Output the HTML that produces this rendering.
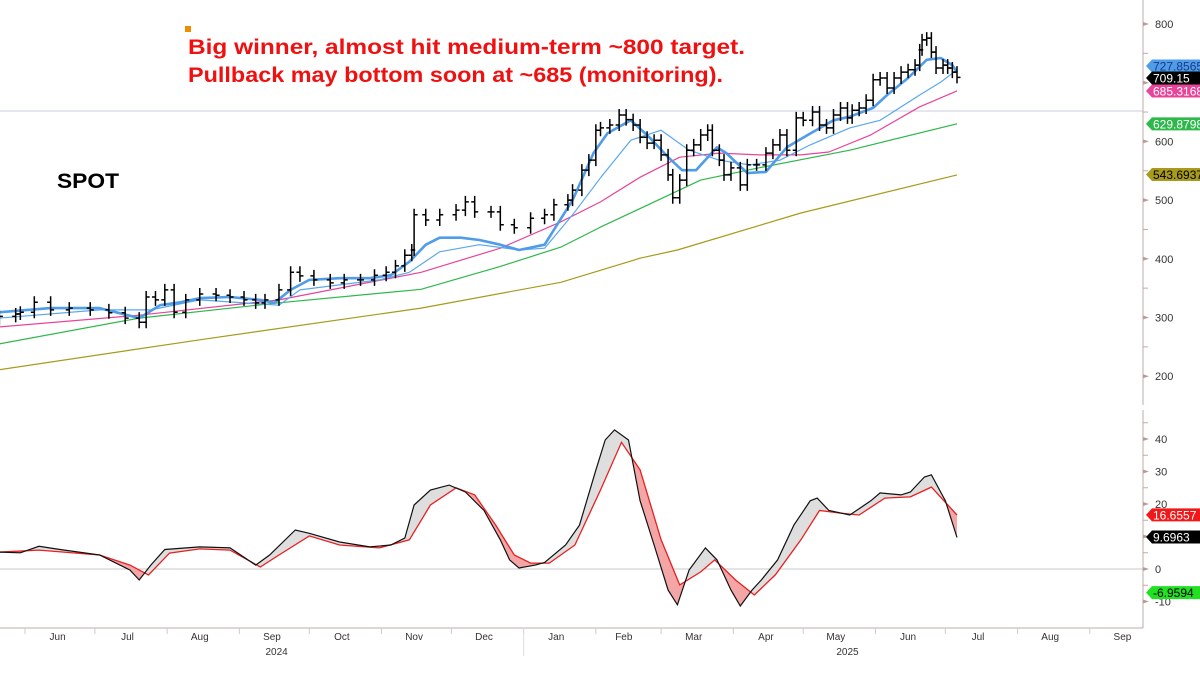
<!DOCTYPE html>
<html><head><meta charset="utf-8"><style>
html,body{margin:0;padding:0;background:#fff;}
svg{display:block;font-family:"Liberation Sans",sans-serif;}
</style></head><body>
<svg id="c" width="1200" height="675" viewBox="0 0 1200 675">
<defs>
<clipPath id="aboveRed"><path id="aboveRedPath" d=""/></clipPath>
<clipPath id="belowRed"><path id="belowRedPath" d=""/></clipPath>
</defs>
<g id="grid"></g>
<g id="ma"></g>
<g id="bars"></g>
<g id="osc"></g>
<g id="axes"></g>
<g id="tags"></g>
<rect x="185" y="26" width="6" height="6" fill="#f08c00"/>
<text x="188" y="54" fill="#f01010" font-size="21" font-weight="bold" textLength="557" lengthAdjust="spacingAndGlyphs">Big winner, almost hit medium-term ~800 target.</text>
<text x="188" y="82" fill="#f01010" font-size="21" font-weight="bold" textLength="535" lengthAdjust="spacingAndGlyphs">Pullback may bottom soon at ~685 (monitoring).</text>
<text x="57" y="188" fill="#000" font-size="21" font-weight="bold" textLength="62" lengthAdjust="spacingAndGlyphs">SPOT</text>
</svg>
<script>
// days since 2024-06-01
const barDays=[-11,-4,-2,4,11,19,28,36,43,49,52,56,60,64,69,75,82,88,94,99,103,109,114,118,124,131,137,144,150,155,159,163,166,167,172,178,185,189,193,200,204,210,217,223,227,233,235,239,242,245,247,251,255,258,261,264,267,270,273,276,278,281,284,287,290,293,295,298,300,303,307,310,314,318,321,324,327,331,334,338,341,344,347,350,353,355,358,361,364,367,370,373,376,379,382,384,385,387,389,391,394,396,398,400];
const closes=[302,306,309,326,313,316,313,308,299,292,335,330,347,309,330,340,338,335,330,325,330,347,377,371,364,359,364,364,372,377,388,406,415,475,466,475,483,497,480,480,458,453,469,475,492,500,517,551,568,619,623,628,645,637,628,607,597,602,577,543,504,534,585,594,611,619,585,568,543,555,526,560,560,580,594,611,585,640,636,650,628,623,645,657,640,653,657,670,705,708,691,708,718,722,730,756,773,776,752,725,730,725,718,709];
const fastDays=[-11,11,32,45,49,58,67,75,88,101,107,114,122,135,148,157,165,172,178,187,195,204,212,223,235,244,250,260,268,276,282,288,297,301,310,318,327,336,347,354,364,370,379,387,393,398,400];
const fastMA=[309,316,316,303,299,321,326,333,335,330,325,347,364,367,367,372,395,424,436,436,432,424,415,424,500,580,614,636,607,573,551,551,590,580,546,548,590,611,636,642,657,679,708,739,742,730,718];
const slowDays=[-11,32,54,75,109,118,152,165,178,195,212,223,235,247,260,273,285,298,311,324,337,354,367,384,393,400];
const slowMA=[299,313,313,330,321,347,364,377,412,424,415,418,475,538,602,619,585,568,560,568,594,623,636,679,701,722];
const ma50Days=[-11,49,109,170,204,230,247,264,281,298,315,333,345,363,384,400];
const ma50=[284,304,330,377,418,463,497,539,573,580,577,577,582,611,659,686];
const ma100Days=[-11,49,109,170,204,230,247,290,315,354,400];
const ma100=[255,299,325,348,387,420,454,534,555,585,630];
const ma200Days=[-11,75,170,230,264,280,333,400];
const ma200=[211,262,316,360,401,415,478,543];
const oscBlackDays=[-11,-2,6,15,32,45,49,54,60,75,88,99,105,116,122,135,148,157,163,167,174,182,189,197,204,208,212,219,223,232,238,245,249,253,259,264,270,276,280,285,292,297,303,307,312,316,323,330,337,340,345,354,363,367,376,380,386,389,395,400];
const oscBlack=[5.2,5,7,6,4.3,-0.3,-3.4,1.2,6,6.8,6.5,1.2,4.3,12,11,8.3,6.8,7.4,9.5,19.7,24.3,25.8,23.7,18,9,2.8,0.3,1.2,2,7.4,13.5,30.5,39.7,42.8,39.7,21,7.4,-6.5,-11,-0.3,6.5,2.8,-6.5,-11.4,-6.5,-3.4,2.8,13.5,21,21.8,18,16.6,21,23.4,22.8,23.7,28.3,29,21,9.7];
const oscRedDays=[-11,6,32,45,53,62,75,88,101,109,122,135,152,165,174,185,193,202,210,217,225,236,247,256,264,273,281,290,296,305,313,322,333,341,350,358,369,380,389,400];
const oscRed=[5.2,5.8,4.3,1.2,-1.8,4.9,6.2,5.8,0.6,4.3,10.2,7.4,6.5,9,19.7,25,22.8,13.5,4.3,1.8,1.8,7.4,24.3,39,30.5,9,-4.9,-0.9,2.8,-3.4,-8,-1.8,9,18,17.2,16.6,21.8,22.2,25.2,16.6];
const priceTicks=[200,300,400,500,600,700,800];
const oscTicks=[-10,0,10,20,30,40];
const monthLabels=["Jun","Jul","Aug","Sep","Oct","Nov","Dec","Jan","Feb","Mar","Apr","May","Jun","Jul","Aug","Sep"];
const monthMidDays=[14,44,75,106,136,167,197,228,257,287,318,348,379,409,440,471];
const monthStartDays=[0,30,61,92,122,153,183,214,245,273,304,334,365,395,426,457];
const tagLabels=["727.8565","709.15","685.3168","629.8798","543.6937"];
const tagValues=[727.8565,709.15,685.3168,629.8798,543.6937];
const oscTagLabels=["16.6557","9.6963","-6.9594"];
const oscTagValues=[16.6557,9.6963,-6.9594];

const NS="http://www.w3.org/2000/svg";
const X=d=>25+d*2.33;
const Y=v=>24+(800-v)*0.587;
const YO=v=>569-v*3.25;
const AX=1143;
function mk(tag,attrs,parent){const e=document.createElementNS(NS,tag);for(const k in attrs)e.setAttribute(k,attrs[k]);parent.appendChild(e);return e;}
function pathOf(days,vals,ys){return days.map((d,i)=>(i?"L":"M")+X(d).toFixed(1)+","+ys(vals[i]).toFixed(1)).join(" ");}

const grid=document.getElementById('grid');
let g1=mk('line',{x1:0,x2:AX,y1:111,y2:111,stroke:'#c8cde0','stroke-width':1},grid);


let g2=mk('line',{x1:0,x2:AX,y1:YO(0),y2:YO(0),stroke:'#c8c8c8','stroke-width':1},grid);



const ma=document.getElementById('ma');
const maSpecs=[[ma200Days,ma200,'#a89a1a',1.2,'ma-200-line'],[ma100Days,ma100,'#2db84a',1.2,'ma-100-line'],[ma50Days,ma50,'#e8449a',1.2,'ma-50-line'],[slowDays,slowMA,'#5aa8ee',1.2,'ma-20-line'],[fastDays,fastMA,'#4f9ce8',2.6,'ma-10-line']];
maSpecs.forEach(s=>{const p=mk('path',{d:pathOf(s[0],s[1],Y),fill:'none',stroke:s[2],'stroke-width':s[3],'stroke-linejoin':'round'},ma);

});

const bars=document.getElementById('bars');
barDays.forEach((d,i)=>{const x=X(d);const c=Y(closes[i]);const o=i?Y(closes[i-1]):c+3;
const top=Math.min(o,c)-6,bot=Math.max(o,c)+6;
const b=mk('path',{d:`M${x},${top}L${x},${bot}M${x-3.5},${o}L${x},${o}M${x},${c}L${x+3.5},${c}`,stroke:'#000','stroke-width':1.5,fill:'none'},bars);

});

// oscillator
const osc=document.getElementById('osc');
const redPts=oscRedDays.map((d,i)=>[X(d),YO(oscRed[i])]);
const redLine="M"+redPts.map(p=>p[0].toFixed(1)+","+p[1].toFixed(1)).join("L");
const x0=X(oscRedDays[0]),x1=X(oscRedDays[oscRedDays.length-1]);
document.getElementById('aboveRedPath').setAttribute('d',redLine+`L${x1},400L${x0},400Z`);
document.getElementById('belowRedPath').setAttribute('d',redLine+`L${x1},640L${x0},640Z`);
const blackPts=oscBlackDays.map((d,i)=>[X(d),YO(oscBlack[i])]);
const between="M"+blackPts.map(p=>p.join(",")).join("L")+"L"+redPts.slice().reverse().map(p=>p.join(",")).join("L")+"Z";
let fa=mk('path',{d:between,fill:'#dedede','clip-path':'url(#aboveRed)'},osc);


let fb=mk('path',{d:between,fill:'#f4a6a6','clip-path':'url(#belowRed)'},osc);


let rl=mk('path',{d:pathOf(oscRedDays,oscRed,YO),fill:'none',stroke:'#e82020','stroke-width':1.3},osc);


let bl=mk('path',{d:pathOf(oscBlackDays,oscBlack,YO),fill:'none',stroke:'#111','stroke-width':1.2},osc);



// axes
const ax=document.getElementById('axes');
let a1=mk('line',{x1:AX,x2:AX,y1:0,y2:405,stroke:'#c0aaaa','stroke-width':1},ax);


let a2=mk('line',{x1:AX,x2:AX,y1:410,y2:628,stroke:'#c0aaaa','stroke-width':1},ax);


let a3=mk('line',{x1:0,x2:AX,y1:628,y2:628,stroke:'#c0aaaa','stroke-width':1},ax);


priceTicks.forEach(v=>{const y=Y(v);
mk('path',{d:`M${AX},${y-2}L${AX+6},${y}L${AX},${y+2}Z`,fill:'#b89a9a'},ax);
mk('line',{x1:AX,x2:AX+5,y1:Y(v+50),y2:Y(v+50),stroke:'#c0aaaa'},ax);
const t=mk('text',{x:AX+12,y:y+4,'font-size':11,fill:'#333'},ax);t.textContent=v;

});
oscTicks.forEach(v=>{const y=YO(v);
mk('path',{d:`M${AX},${y-2}L${AX+6},${y}L${AX},${y+2}Z`,fill:'#b89a9a'},ax);
mk('line',{x1:AX,x2:AX+5,y1:YO(v+5),y2:YO(v+5),stroke:'#c0aaaa'},ax);
const t=mk('text',{x:AX+12,y:y+4,'font-size':11,fill:'#333'},ax);t.textContent=v;

});
monthStartDays.forEach(d=>{mk('line',{x1:X(d),x2:X(d),y1:628,y2:634,stroke:'#ccc'},ax);});
monthLabels.forEach((m,i)=>{const t=mk('text',{x:X(monthMidDays[i]),y:640,'font-size':10,fill:'#333','text-anchor':'middle'},ax);t.textContent=m;

});
mk('line',{x1:X(214),x2:X(214),y1:628,y2:656,stroke:'#ddd'},ax);
[["2024",108],["2025",353]].forEach(yv=>{const t=mk('text',{x:X(yv[1]),y:655,'font-size':10,fill:'#333','text-anchor':'middle'},ax);t.textContent=yv[0];

});

// tags
const tags=document.getElementById('tags');
const tagColors=[['#4f9ce8','#1a3a8a'],['#000','#fff'],['#e8449a','#fff'],['#2db84a','#fff'],['#a89a1a','#000']];
function tag(y,label,bg,fg,name){const p=mk('path',{d:`M${AX+3},${y}L${AX+9},${y-6.5}L1200,${y-6.5}L1200,${y+6.5}L${AX+9},${y+6.5}Z`,fill:bg},tags);


const t=mk('text',{x:AX+10,y:y+4.5,'font-size':12,fill:fg},tags);t.textContent=label;

}
const tagYs=[66,78,91];
tagValues.forEach((v,i)=>tag(i<3?tagYs[i]:Y(v),tagLabels[i],tagColors[i][0],tagColors[i][1],'price-value-tag'));
const oscColors=[['#f01818','#fff'],['#000','#fff'],['#22e022','#000']];
oscTagValues.forEach((v,i)=>tag(i===1?537:YO(v)+(i===2?1:0),oscTagLabels[i],oscColors[i][0],oscColors[i][1],'oscillator-value-tag'));
</script>
</body></html>
